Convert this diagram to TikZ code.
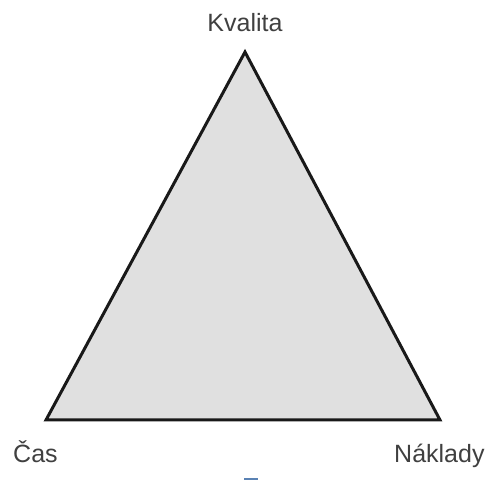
\documentclass[tikz,border=0pt]{standalone}
\usepackage{fontspec}
\setmainfont{Liberation Sans}
\begin{document}
\begin{tikzpicture}[x=1pt,y=-1pt,
  lbl/.style={inner sep=0pt, font=\fontsize{25}{28}\selectfont, text=black!75},
  tri/.style={draw=black!90, line width=3pt, fill=black!12, line join=miter}]
\useasboundingbox (0,0) rectangle (491,481);
\coordinate (top) at (245,52);
\coordinate (bl) at (46,420);
\coordinate (br) at (440,420);
\draw[tri] (top) -- (bl) -- (br) -- cycle;
\node[lbl, anchor=base] (kv) at (245,32) {Kvalita};
\node[lbl, anchor=base west] (cas) at (13,463) {Čas};
\node[lbl, anchor=base west] (nak) at (394,463) {Náklady};
\coordinate (u1) at (244,479);
\coordinate (u2) at (258,479);
\draw[line width=1.5pt, draw={rgb,255:red,90;green,130;blue,180}] (u1) -- (u2);
\end{tikzpicture}
\end{document}
